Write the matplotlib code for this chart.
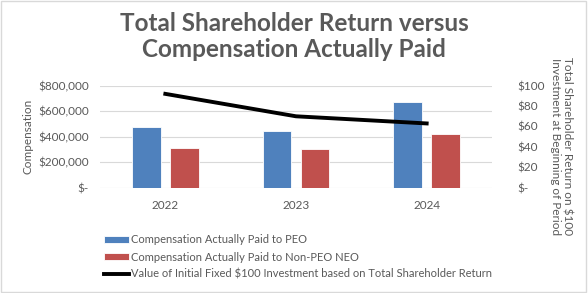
import numpy as np
import matplotlib.pyplot as plt
from matplotlib.patches import Rectangle

plt.rcParams['font.family'] = ['Lato', 'DejaVu Sans']

years = ["2022", "2023", "2024"]
peo_cap = [478000, 445000, 670000]
non_peo_cap = [314000, 303000, 419000]
tsr = [92, 70, 63]

grey = "#595959"
fig = plt.figure(figsize=(5.88, 2.93), dpi=100)
ax = fig.add_axes([100 / 588, 1 - 187.7 / 293, 392 / 588, 102 / 293])
ax2 = ax.twinx()

x = np.arange(len(years))
w = 0.22
ax.bar(x - 0.145, peo_cap, w, color="#4F81BD", edgecolor="white", linewidth=0.6,
       label="Compensation Actually Paid to PEO", zorder=2)
ax.bar(x + 0.145, non_peo_cap, w, color="#C0504D", edgecolor="white", linewidth=0.6,
       label="Compensation Actually Paid to Non-PEO NEO", zorder=2)
ax2.plot(x, tsr, color="black", linewidth=2.8,
         label="Value of Initial Fixed $100 Investment based on Total Shareholder Return")

ax.set_xlim(-0.5, 2.5)
ax.set_ylim(0, 800000)
ax2.set_ylim(0, 100)
ax.set_yticks([0, 200000, 400000, 600000, 800000])
ax.set_yticklabels(["$-", "$200,000", "$400,000", "$600,000", "$800,000"])
ax2.set_yticks([0, 20, 40, 60, 80, 100])
ax2.set_yticklabels(["$-", "$20", "$40", "$60", "$80", "$100"])
ax.set_xticks(x)
ax.set_xticklabels(years)
ax.grid(axis="y", color="#d9d9d9", linewidth=0.8, zorder=0)
ax.set_axisbelow(True)

for a in (ax, ax2):
    for s in a.spines.values():
        s.set_visible(False)
    a.tick_params(length=0, labelsize=8.5, colors=grey)
ax.tick_params(axis="y", pad=8)
ax.tick_params(axis="x", pad=9)
ax2.tick_params(axis="y", pad=18)

ax.set_ylabel("Compensation", fontsize=8.5, color=grey, labelpad=3)
fig.text(0.955, 0.5, "Total Shareholder Return on $100\nInvestment at Beginning of Period",
         rotation=-90, ha="center", va="center", fontsize=8.5, color=grey,
         linespacing=1.1)
fig.text(0.5, 0.875, "Total Shareholder Return versus\nCompensation Actually Paid",
         ha="center", va="center", fontsize=17.5, fontweight="bold", color=grey,
         linespacing=1.15)

h1, l1 = ax.get_legend_handles_labels()
h2, l2 = ax2.get_legend_handles_labels()
fig.legend(h1 + h2, l1 + l2, loc="upper left", bbox_to_anchor=(0.17, 0.215),
           frameon=False, fontsize=8, labelcolor=grey, handlelength=2.2,
           handleheight=0.5, handletextpad=0.2, labelspacing=0.55,
           borderaxespad=0)

fig.patches.append(Rectangle((0.002, 0.004), 0.994, 0.993, transform=fig.transFigure,
                             fill=False, edgecolor="#d9d9d9", linewidth=1))

fig.savefig("out.png", dpi=100)
